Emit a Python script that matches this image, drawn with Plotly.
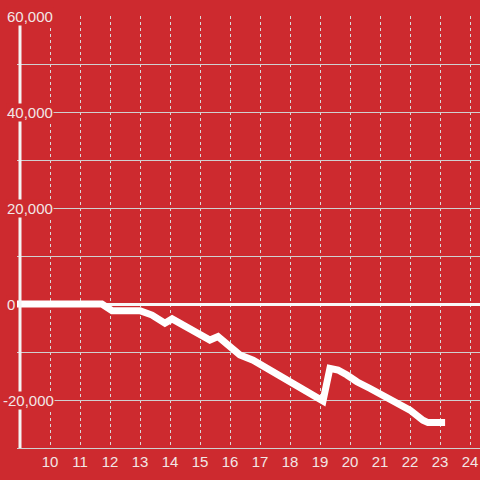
import plotly.graph_objects as go

# Data
x_vals = [8.9, 11.73, 12.07, 13.0, 13.4, 13.67, 13.83, 14.07, 14.33, 14.67, 15.0, 15.33,
          15.6, 16.0, 16.33, 16.77, 17.23, 17.77, 18.33, 18.67, 19.1, 19.33, 19.6, 19.9,
          20.23, 20.67, 21.1, 21.57, 22.0, 22.43, 22.6, 23.17]
y_vals = [0, 0, -1400, -1400, -2300, -3300, -4000, -3100, -4000, -5400, -6500, -7500,
          -6800, -8900, -10600, -11700, -13300, -15200, -17200, -18300, -20200, -13400, -13750, -14800,
          -16200, -17600, -19000, -20400, -22100, -24200, -24700, -24700]
x_ticks = list(range(10, 25))
y_label_vals = [60000, 40000, 20000, 0, -20000]
y_label_text = ["60,000", "40,000", "20,000", "0", "-20,000"]

BG = "#cd2a2f"
FONT = "Liberation Sans, Arial, sans-serif"
TXT = "#f2e6e6"

W, H = 480, 480
ML, MR, MT, MB = 17, 0, 16, 32
PW = W - ML - MR

fig = go.Figure()
fig.add_trace(go.Scatter(x=x_vals, y=y_vals, mode="lines",
                         line=dict(color="white", width=7), hoverinfo="skip"))

# y axis line (white, thick)
fig.add_shape(type="line", xref="paper", yref="paper",
              x0=(20 - ML) / PW, x1=(20 - ML) / PW, y0=0, y1=1,
              line=dict(color="#f4f4f4", width=3), layer="above")

annotations = []
for v, t in zip(y_label_vals, y_label_text):
    px = 2 if v < 0 else 6
    annotations.append(dict(x=(px - ML) / PW, xref="paper", y=v, yref="y",
                            text=t, showarrow=False, xanchor="left", yanchor="middle",
                            bgcolor=BG, borderpad=0,
                            font=dict(family=FONT, size=15, color=TXT)))

fig.update_layout(
    width=W, height=H,
    margin=dict(l=ML, r=MR, t=MT, b=MB),
    paper_bgcolor=BG, plot_bgcolor=BG,
    showlegend=False,
    annotations=annotations,
    xaxis=dict(range=[8.9, 8.9 + PW / 30], tickvals=x_ticks, ticktext=[str(t) for t in x_ticks],
               showgrid=True, gridcolor="#d9d9d9", gridwidth=1, griddash="3px,3px",
               zeroline=False, showline=True, linecolor="#d0d0d0", linewidth=1,
               ticks="", tickfont=dict(family=FONT, size=15, color=TXT)),
    yaxis=dict(range=[-30000, 60000], dtick=10000, showticklabels=False,
               showgrid=True, gridcolor="#d0d0d0", gridwidth=1,
               zeroline=True, zerolinecolor="#f8f8f8", zerolinewidth=3,
               showline=False, ticks=""),
)

fig.write_html("out.html", config={"displayModeBar": False},
               post_script="document.body.style.margin='0';document.body.style.background='%s';" % BG)
